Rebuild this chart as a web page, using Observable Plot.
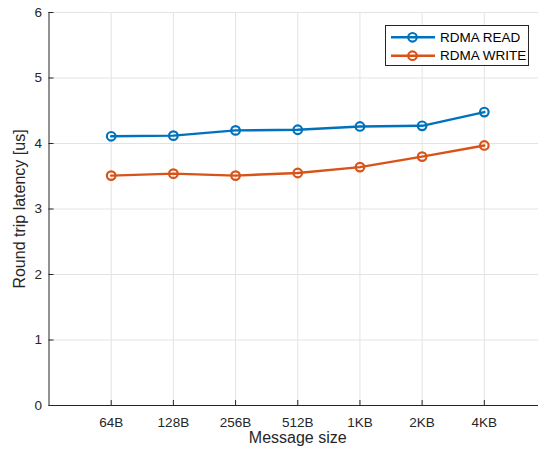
<!DOCTYPE html>
<html>
<head>
<meta charset="utf-8">
<script src="https://cdn.jsdelivr.net/npm/d3@7"></script>
<script src="https://cdn.jsdelivr.net/npm/@observablehq/plot@0.6"></script>
<style>
  html, body { margin: 0; padding: 0; background: #fff; }
  #wrap { position: relative; width: 538px; height: 454px; overflow: hidden; }
  #legend { position: absolute; left: 385px; top: 25px; }
</style>
</head>
<body>
<div id="wrap"></div>
<script>
const categories = ["64B", "128B", "256B", "512B", "1KB", "2KB", "4KB"];
const readLatency = [4.11, 4.12, 4.20, 4.21, 4.26, 4.27, 4.48];
const writeLatency = [3.51, 3.54, 3.51, 3.55, 3.64, 3.80, 3.97];
const yTicks = [0, 1, 2, 3, 4, 5, 6];
const seriesNames = ["RDMA READ", "RDMA WRITE"];
const seriesColors = ["#0072BD", "#D95319"];
const xLabel = "Message size";
const yLabel = "Round trip latency [us]";

const xPos = categories.map((c, i) => i + 1);
const rows = [];
[readLatency, writeLatency].forEach((vals, s) => {
  vals.forEach((v, i) => rows.push({pos: i + 1, cat: categories[i], value: v, series: seriesNames[s]}));
});

const axisColor = "#262626";
const gridColor = "#e3e3e3";
const font = "'Liberation Sans', Arial, sans-serif";

const chart = Plot.plot({
  width: 538,
  height: 454,
  marginTop: 12,
  marginBottom: 49,
  marginLeft: 48.5,
  marginRight: -8,
  style: {fontFamily: font, fontSize: "13.5px", color: axisColor, overflow: "hidden", background: "#fff"},
  x: {type: "linear", domain: [0, 8], range: [48.5, 546]},
  y: {domain: [0, 6], range: [405, 12]},
  color: {domain: seriesNames, range: seriesColors},
  marks: [
    Plot.gridX(xPos, {stroke: gridColor, strokeOpacity: 1}),
    Plot.gridY(yTicks.slice(1), {stroke: gridColor, strokeOpacity: 1}),
    Plot.ruleY([0], {stroke: axisColor}),
    Plot.ruleX([0], {stroke: axisColor}),
    Plot.axisX(xPos, {tickSize: -5, text: null, stroke: axisColor, label: null}),
    Plot.axisX(xPos, {tickSize: 0, tickPadding: 12, tickFormat: i => categories[i - 1], label: null, fill: axisColor, fontSize: 13.5}),
    Plot.axisY(yTicks, {tickSize: -5, text: null, stroke: axisColor, label: null}),
    Plot.axisY(yTicks, {tickSize: 0, tickPadding: 7, tickFormat: d => String(d), label: null, fill: axisColor, fontSize: 13.5}),
    Plot.line(rows, {x: "pos", y: "value", z: "series", stroke: "series", strokeWidth: 2.4}),
    Plot.dot(rows, {x: "pos", y: "value", stroke: "series", r: 4.3, strokeWidth: 2.2, fill: "none"}),
    Plot.text([xLabel], {frameAnchor: "bottom", dy: 32.5, lineAnchor: "middle", textAnchor: "middle", fontSize: 16, fill: axisColor}),
    Plot.text([yLabel], {frameAnchor: "left", dx: -29.5, rotate: -90, lineAnchor: "middle", textAnchor: "middle", fontSize: 16, fill: axisColor})
  ]
});

const wrap = document.getElementById("wrap");
wrap.appendChild(chart);

// legend
const lg = d3.select(wrap).append("svg")
  .attr("id", "legend")
  .attr("width", 145).attr("height", 42)
  .style("font-family", font);
lg.append("rect").attr("x", 0.5).attr("y", 0.5).attr("width", 143).attr("height", 40)
  .attr("fill", "#fff").attr("stroke", axisColor).attr("stroke-width", 1);
seriesNames.forEach((name, i) => {
  const cy = 12.3 + i * 18.4;
  const g = lg.append("g");
  g.append("line").attr("x1", 6).attr("x2", 50).attr("y1", cy).attr("y2", cy)
    .attr("stroke", seriesColors[i]).attr("stroke-width", 2.4);
  g.append("circle").attr("cx", 27.5).attr("cy", cy).attr("r", 4.3)
    .attr("fill", "none").attr("stroke", seriesColors[i]).attr("stroke-width", 2.2);
  g.append("text").attr("x", 55).attr("y", cy).attr("dy", "0.35em")
    .attr("font-size", 13.5).attr("fill", "#000").text(name);
});
</script>
</body>
</html>
